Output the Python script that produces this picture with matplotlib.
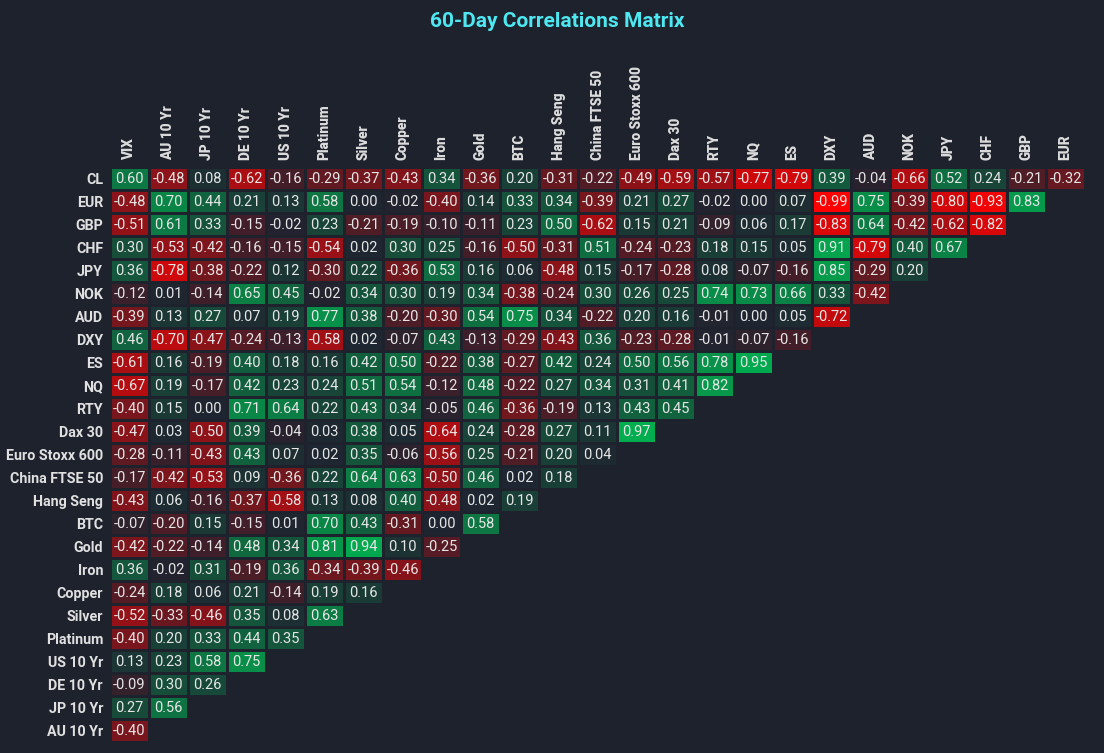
import numpy as np
import matplotlib
matplotlib.use("Agg")
import matplotlib.pyplot as plt
from matplotlib.colors import LinearSegmentedColormap

col_labels = ["VIX", "AU 10 Yr", "JP 10 Yr", "DE 10 Yr", "US 10 Yr", "Platinum", "Silver",
              "Copper", "Iron", "Gold", "BTC", "Hang Seng", "China FTSE 50", "Euro Stoxx 600",
              "Dax 30", "RTY", "NQ", "ES", "DXY", "AUD", "NOK", "JPY", "CHF", "GBP", "EUR"]
row_labels = ["CL", "EUR", "GBP", "CHF", "JPY", "NOK", "AUD", "DXY", "ES", "NQ", "RTY",
              "Dax 30", "Euro Stoxx 600", "China FTSE 50", "Hang Seng", "BTC", "Gold", "Iron",
              "Copper", "Silver", "Platinum", "US 10 Yr", "DE 10 Yr", "JP 10 Yr", "AU 10 Yr"]

row_CL = [0.60, -0.48, 0.08, -0.62, -0.16, -0.29, -0.37, -0.43, 0.34, -0.36, 0.20, -0.31, -0.22,
          -0.49, -0.59, -0.57, -0.77, -0.79, 0.39, -0.04, -0.66, 0.52, 0.24, -0.21, -0.32]
row_EUR = [-0.48, 0.70, 0.44, 0.21, 0.13, 0.58, 0.00, -0.02, -0.40, 0.14, 0.33, 0.34, -0.39,
           0.21, 0.27, -0.02, 0.00, 0.07, -0.99, 0.75, -0.39, -0.80, -0.93, 0.83]
row_GBP = [-0.51, 0.61, 0.33, -0.15, -0.02, 0.23, -0.21, -0.19, -0.10, -0.11, 0.23, 0.50, -0.62,
           0.15, 0.21, -0.09, 0.06, 0.17, -0.83, 0.64, -0.42, -0.62, -0.82]
row_CHF = [0.30, -0.53, -0.42, -0.16, -0.15, -0.54, 0.02, 0.30, 0.25, -0.16, -0.50, -0.31, 0.51,
           -0.24, -0.23, 0.18, 0.15, 0.05, 0.91, -0.79, 0.40, 0.67]
row_JPY = [0.36, -0.78, -0.38, -0.22, 0.12, -0.30, 0.22, -0.36, 0.53, 0.16, 0.06, -0.48, 0.15,
           -0.17, -0.28, 0.08, -0.07, -0.16, 0.85, -0.29, 0.20]
row_NOK = [-0.12, 0.01, -0.14, 0.65, 0.45, -0.02, 0.34, 0.30, 0.19, 0.34, -0.38, -0.24, 0.30,
           0.26, 0.25, 0.74, 0.73, 0.66, 0.33, -0.42]
row_AUD = [-0.39, 0.13, 0.27, 0.07, 0.19, 0.77, 0.38, -0.20, -0.30, 0.54, 0.75, 0.34, -0.22,
           0.20, 0.16, -0.01, 0.00, 0.05, -0.72]
row_DXY = [0.46, -0.70, -0.47, -0.24, -0.13, -0.58, 0.02, -0.07, 0.43, -0.13, -0.29, -0.43, 0.36,
           -0.23, -0.28, -0.01, -0.07, -0.16]
row_ES = [-0.61, 0.16, -0.19, 0.40, 0.18, 0.16, 0.42, 0.50, -0.22, 0.38, -0.27, 0.42, 0.24,
          0.50, 0.56, 0.78, 0.95]
row_NQ = [-0.67, 0.19, -0.17, 0.42, 0.23, 0.24, 0.51, 0.54, -0.12, 0.48, -0.22, 0.27, 0.34,
          0.31, 0.41, 0.82]
row_RTY = [-0.40, 0.15, 0.00, 0.71, 0.64, 0.22, 0.43, 0.34, -0.05, 0.46, -0.36, -0.19, 0.13,
           0.43, 0.45]
row_DAX = [-0.47, 0.03, -0.50, 0.39, -0.04, 0.03, 0.38, 0.05, -0.64, 0.24, -0.28, 0.27, 0.11, 0.97]
row_STOXX = [-0.28, -0.11, -0.43, 0.43, 0.07, 0.02, 0.35, -0.06, -0.56, 0.25, -0.21, 0.20, 0.04]
row_CHINA = [-0.17, -0.42, -0.53, 0.09, -0.36, 0.22, 0.64, 0.63, -0.50, 0.46, 0.02, 0.18]
row_HSI = [-0.43, 0.06, -0.16, -0.37, -0.58, 0.13, 0.08, 0.40, -0.48, 0.02, 0.19]
row_BTC = [-0.07, -0.20, 0.15, -0.15, 0.01, 0.70, 0.43, -0.31, 0.00, 0.58]
row_GOLD = [-0.42, -0.22, -0.14, 0.48, 0.34, 0.81, 0.94, 0.10, -0.25]
row_IRON = [0.36, -0.02, 0.31, -0.19, 0.36, -0.34, -0.39, -0.46]
row_COPPER = [-0.24, 0.18, 0.06, 0.21, -0.14, 0.19, 0.16]
row_SILVER = [-0.52, -0.33, -0.46, 0.35, 0.08, 0.63]
row_PLAT = [-0.40, 0.20, 0.33, 0.44, 0.35]
row_US10 = [0.13, 0.23, 0.58, 0.75]
row_DE10 = [-0.09, 0.30, 0.26]
row_JP10 = [0.27, 0.56]
row_AU10 = [-0.40]

rows = [row_CL, row_EUR, row_GBP, row_CHF, row_JPY, row_NOK, row_AUD, row_DXY, row_ES, row_NQ,
        row_RTY, row_DAX, row_STOXX, row_CHINA, row_HSI, row_BTC, row_GOLD, row_IRON, row_COPPER,
        row_SILVER, row_PLAT, row_US10, row_DE10, row_JP10, row_AU10]

n_r, n_c = len(row_labels), len(col_labels)
M = np.full((n_r, n_c), np.nan)
for i, r in enumerate(rows):
    M[i, :len(r)] = r
Mm = np.ma.masked_invalid(M)

BG = "#1e222d"
cmap = LinearSegmentedColormap.from_list("rg", ["#ff0000", "#1f2430", "#00b050"])
cmap.set_bad(BG)

fig = plt.figure(figsize=(11.04, 7.53), dpi=100, facecolor=BG)
ax = fig.add_axes([0.0996, 0.0146, 0.8834, 0.7636])
ax.set_facecolor(BG)
ax.pcolormesh(np.arange(n_c + 1), np.arange(n_r + 1), Mm, cmap=cmap, vmin=-1, vmax=1,
              edgecolors=BG, linewidth=2)
ax.set_xlim(0, n_c)
ax.set_ylim(n_r, 0)

for i in range(n_r):
    for j in range(n_c):
        if not np.isnan(M[i, j]):
            ax.text(j + 0.5, i + 0.5, f"{M[i, j]:.2f}", ha="center", va="center",
                    color="#e6e6e6", fontsize=10.5, family=["Roboto", "DejaVu Sans"])

ax.set_xticks(np.arange(n_c) + 0.5)
ax.set_xticklabels(col_labels, rotation=90, fontsize=9.8, fontweight=900, color="#dcdcdc",
                   family=["Roboto", "DejaVu Sans"])
ax.xaxis.tick_top()
ax.set_yticks(np.arange(n_r) + 0.5)
ax.set_yticklabels(row_labels, fontsize=10.3, fontweight="bold", color="#e0e0e0",
                   family=["Roboto", "DejaVu Sans"])
ax.tick_params(length=0, pad=5)
for s in ax.spines.values():
    s.set_visible(False)

fig.text(0.505, 0.972, "60-Day Correlations Matrix", ha="center", va="center",
         color="#4de8f2", fontsize=15, fontweight="bold",
         family=["Roboto", "DejaVu Sans"])

fig.savefig("out.png", dpi=100, facecolor=BG)
